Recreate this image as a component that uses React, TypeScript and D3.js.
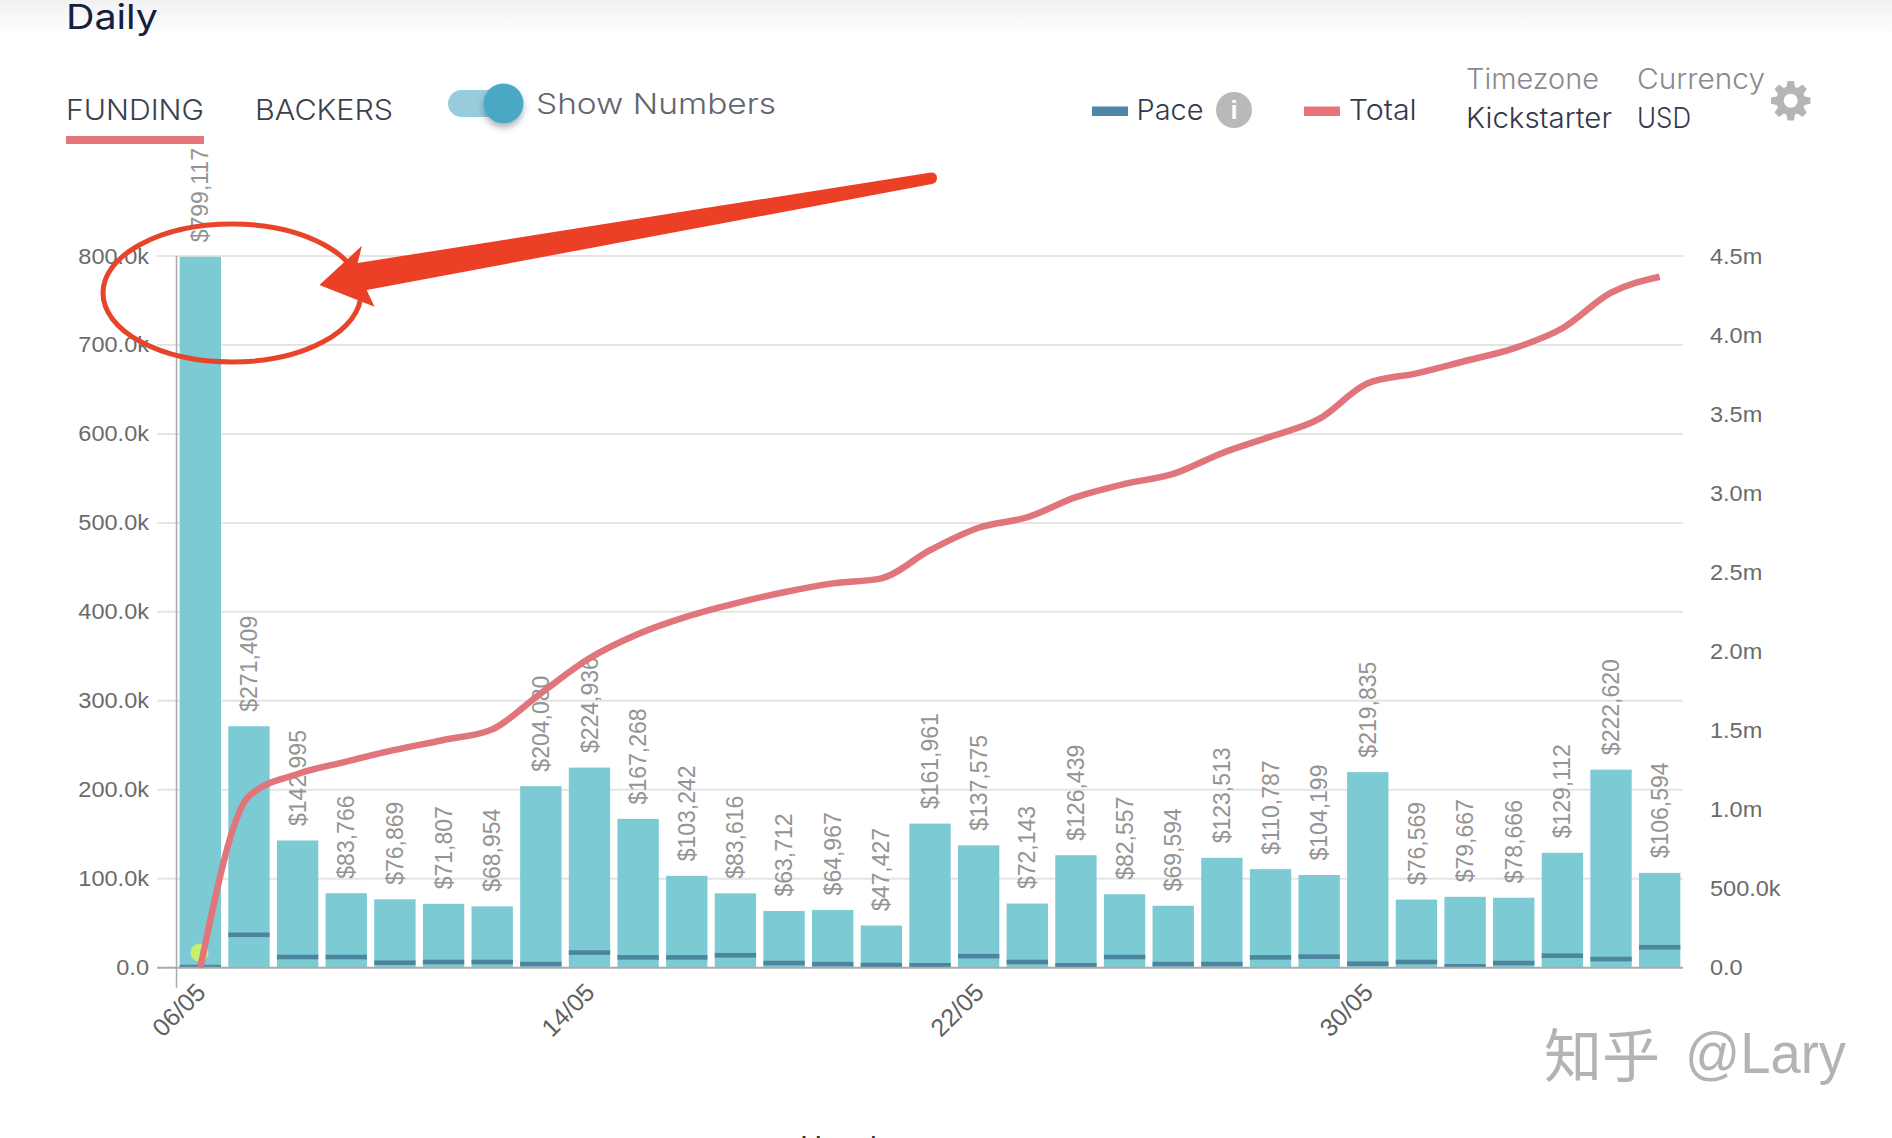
import React from "react";
import * as d3 from "d3";

const dayLabels = ["06/05","07/05","08/05","09/05","10/05","11/05","12/05","13/05","14/05","15/05","16/05","17/05","18/05","19/05","20/05","21/05","22/05","23/05","24/05","25/05","26/05","27/05","28/05","29/05","30/05","31/05","01/06","02/06","03/06","04/06","05/06"];
const shownTicks = ["06/05","14/05","22/05","30/05"];
const dailyFunding = [799117,271409,142995,83766,76869,71807,68954,204080,224936,167268,103242,83616,63712,64967,47427,161961,137575,72143,126439,82557,69594,123513,110787,104199,219835,76569,79667,78666,129112,222620,106594];
const dailyPace = [700,37000,12000,12000,5600,6400,6400,4100,17000,11600,11600,14000,5200,4000,3000,2700,13000,6400,2700,12000,4100,4100,11600,12400,4500,6400,1500,5200,13500,9700,23000];
const totalLine = [0,1085000,1225000,1303000,1377000,1440000,1507000,1735000,1956000,2110000,2220000,2304000,2374000,2430000,2462000,2640000,2782000,2848000,2975000,3059000,3122000,3253000,3358000,3470000,3695000,3758000,3836000,3916000,4043000,4268000,4369000];
const leftTicks = [0,100000,200000,300000,400000,500000,600000,700000,800000];
const leftTickLabels = ["0.0","100.0k","200.0k","300.0k","400.0k","500.0k","600.0k","700.0k","800.0k"];
const rightTicks = [0,500000,1000000,1500000,2000000,2500000,3000000,3500000,4000000,4500000];
const rightTickLabels = ["0.0","500.0k","1.0m","1.5m","2.0m","2.5m","3.0m","3.5m","4.0m","4.5m"];

const W = 1892, H = 1138;
const Y0 = 967.7, YT = 256;
const AXIS = '"Liberation Sans", Arial, sans-serif';
const UI = 'Inter, Lato, "Open Sans", sans-serif';

const x = d3.scaleBand<string>().domain(dayLabels).range([176, 1684]).paddingInner(0.15).paddingOuter(0.075);
const yL = d3.scaleLinear().domain([0, 800000]).range([Y0, YT]);
const yR = d3.scaleLinear().domain([0, 4500000]).range([Y0, YT]);
const cx = (d: string) => (x(d) as number) + x.bandwidth() / 2;

const linePath = d3.line<number>()
  .x((_, i) => cx(dayLabels[i]))
  .y((v) => yR(v))
  .curve(d3.curveMonotoneX)(totalLine) as string;

function gearPath(c: number, d: number, rOut: number, rIn: number, rHole: number, teeth: number) {
  const pts: [number, number][] = [];
  const step = (Math.PI * 2) / teeth;
  for (let i = 0; i < teeth; i++) {
    const a = i * step - Math.PI / 2;
    const w = step * 0.2;
    pts.push([a - step / 2 + step * 0.12, rIn], [a - w, rOut], [a + w, rOut], [a + step / 2 - step * 0.12, rIn]);
  }
  const outer = pts.map(([a, r], i) => `${i ? "L" : "M"}${c + r * Math.cos(a)},${d + r * Math.sin(a)}`).join("") + "Z";
  const hole = `M${c + rHole},${d}A${rHole},${rHole} 0 1 0 ${c - rHole},${d}A${rHole},${rHole} 0 1 0 ${c + rHole},${d}Z`;
  return outer + hole;
}

function UiText(p: { x: number; y: number; w: number; size: number; color: string; t: string; weight?: number }) {
  return (
    <text x={p.x} y={p.y} fontFamily={UI} fontSize={p.size} fontWeight={p.weight ?? 300} fill={p.color} textLength={p.w} lengthAdjust="spacingAndGlyphs">
      {p.t}
    </text>
  );
}

export default function App() {
  return (
    <svg width={W} height={H} viewBox={`0 0 ${W} ${H}`} style={{ position: "absolute", left: 0, top: 0, background: "#fff" }}>
      <defs>
        <linearGradient id="topBand" x1="0" y1="0" x2="0" y2="1">
          <stop offset="0" stopColor="#f1f1f1" />
          <stop offset="1" stopColor="#ffffff" />
        </linearGradient>
        <filter id="knobShadow" x="-50%" y="-50%" width="200%" height="200%">
          <feDropShadow dx="0" dy="4" stdDeviation="3" floodColor="#000" floodOpacity="0.3" />
        </filter>
      </defs>
      <rect x={0} y={0} width={W} height={36} fill="url(#topBand)" />

      {/* Header */}
      <UiText x={66} y={29} w={92} size={34} color="#14203f" t="Daily" weight={400} />
      <UiText x={66} y={120} w={138} size={29} color="#3c3f4e" t="FUNDING" />
      <rect x={66} y={136} width={138} height={8} fill="#e5767c" />
      <UiText x={255} y={120} w={138} size={29} color="#3c3f4e" t="BACKERS" />
      <rect x={448} y={90} width={52} height={27} rx={13.5} fill="#98ccdb" />
      <circle cx={503.5} cy={103.5} r={20} fill="#4ca8c4" filter="url(#knobShadow)" />
      <UiText x={536} y={114} w={240} size={29} color="#63666f" t="Show Numbers" />

      {/* Legend */}
      <rect x={1092} y={106.5} width={36} height={9.5} fill="#4f86a5" />
      <UiText x={1136.5} y={120} w={67} size={28} color="#35384a" t="Pace" />
      <circle cx={1234} cy={110} r={18} fill="#b9b9b9" />
      <text x={1234} y={119} textAnchor="middle" fontFamily={AXIS} fontSize={26} fontWeight={700} fill="#fff">i</text>
      <rect x={1304} y={106.5} width={36} height={9.5} fill="#e8747a" />
      <UiText x={1348.7} y={120} w={68} size={28} color="#35384a" t="Total" />
      <UiText x={1466} y={89} w={133} size={28} color="#888a90" t="Timezone" />
      <UiText x={1466} y={128} w={146} size={28} color="#35384a" t="Kickstarter" />
      <UiText x={1637} y={89} w={128} size={28} color="#888a90" t="Currency" />
      <UiText x={1637} y={128} w={54} size={28} color="#35384a" t="USD" />
      <path d={gearPath(1790.7, 100.7, 20, 14.5, 7, 8)} fill="#b5b5b5" fillRule="evenodd" />

      {/* Grid */}
      {leftTicks.slice(1).map((t) => (
        <line key={t} x1={157} x2={1683} y1={yL(t)} y2={yL(t)} stroke="#e4e4e4" strokeWidth={2} />
      ))}
      <line x1={176.5} x2={176.5} y1={YT} y2={987.7} stroke="#aaaaaa" strokeWidth={1.5} />

      {/* Bars */}
      {dailyFunding.map((v, i) => (
        <rect key={dayLabels[i]} x={x(dayLabels[i])} y={yL(v)} width={x.bandwidth()} height={Y0 - yL(v)} fill="#7ccbd4" />
      ))}
      {dailyPace.map((v, i) => {
        const top = yL(v) - 2.3;
        return <rect key={dayLabels[i]} x={x(dayLabels[i])} y={top} width={x.bandwidth()} height={Math.min(4.6, Y0 - top)} fill="#4d859e" />;
      })}
      <line x1={157} x2={1683} y1={Y0} y2={Y0} stroke="#aaaaaa" strokeWidth={2} />

      {/* Axis labels */}
      {leftTicks.map((t, i) => (
        <text key={t} transform={`translate(149,${yL(t) + 7.5}) scale(1.07,1)`} textAnchor="end" fontFamily={AXIS} fontSize={22} fill="#6b6b6b">
          {leftTickLabels[i]}
        </text>
      ))}
      {rightTicks.map((t, i) => (
        <text key={t} transform={`translate(1710,${yR(t) + 7.5}) scale(1.07,1)`} fontFamily={AXIS} fontSize={22} fill="#6b6b6b">
          {rightTickLabels[i]}
        </text>
      ))}
      {shownTicks.map((d) => (
        <text key={d} transform={`translate(${cx(d) + 0.5},${Y0 + 20}) rotate(-45)`} textAnchor="end" dy="0.35em" fontFamily={AXIS} fontSize={25} fill="#606060">
          {d}
        </text>
      ))}

      {/* Value labels */}
      {dailyFunding.map((v, i) => (
        <text key={dayLabels[i]} transform={`translate(${cx(dayLabels[i])},${yL(v) - 14.5}) rotate(-90)`} dy="0.35em" fontFamily={AXIS} fontSize={23} fill="#949494">
          {"$" + d3.format(",")(v)}
        </text>
      ))}

      {/* Start marker and total line */}
      <circle cx={199.5} cy={952.7} r={9} fill="#c8f06a" />
      <path d={linePath} fill="none" stroke="#e0757c" strokeWidth={6.5} />

      {/* Annotation */}
      <ellipse cx={232} cy={293} rx={129} ry={69} fill="none" stroke="#e8442a" strokeWidth={5} />
      <path d="M319.4,285 L362,245.7 L357.6,263 L931,172.5 Q937,172.5 937,178 Q937,183 932,184 L366.7,290 L374.5,306.7 Z" fill="#eb4026" />

      {/* Watermark and clipped caption */}
      <text x={1544} y={1077} fontFamily='"Noto Sans CJK SC", sans-serif' fontSize={58} fill="#b3b3b3">知乎</text>
      <text x={1685} y={1073} fontFamily={AXIS} fontSize={58} fill="#b3b3b3" textLength={161} lengthAdjust="spacingAndGlyphs">@Lary</text>
      <text x={800} y={1158} fontFamily={UI} fontSize={30} fill="#333">Hourly</text>
    </svg>
  );
}
